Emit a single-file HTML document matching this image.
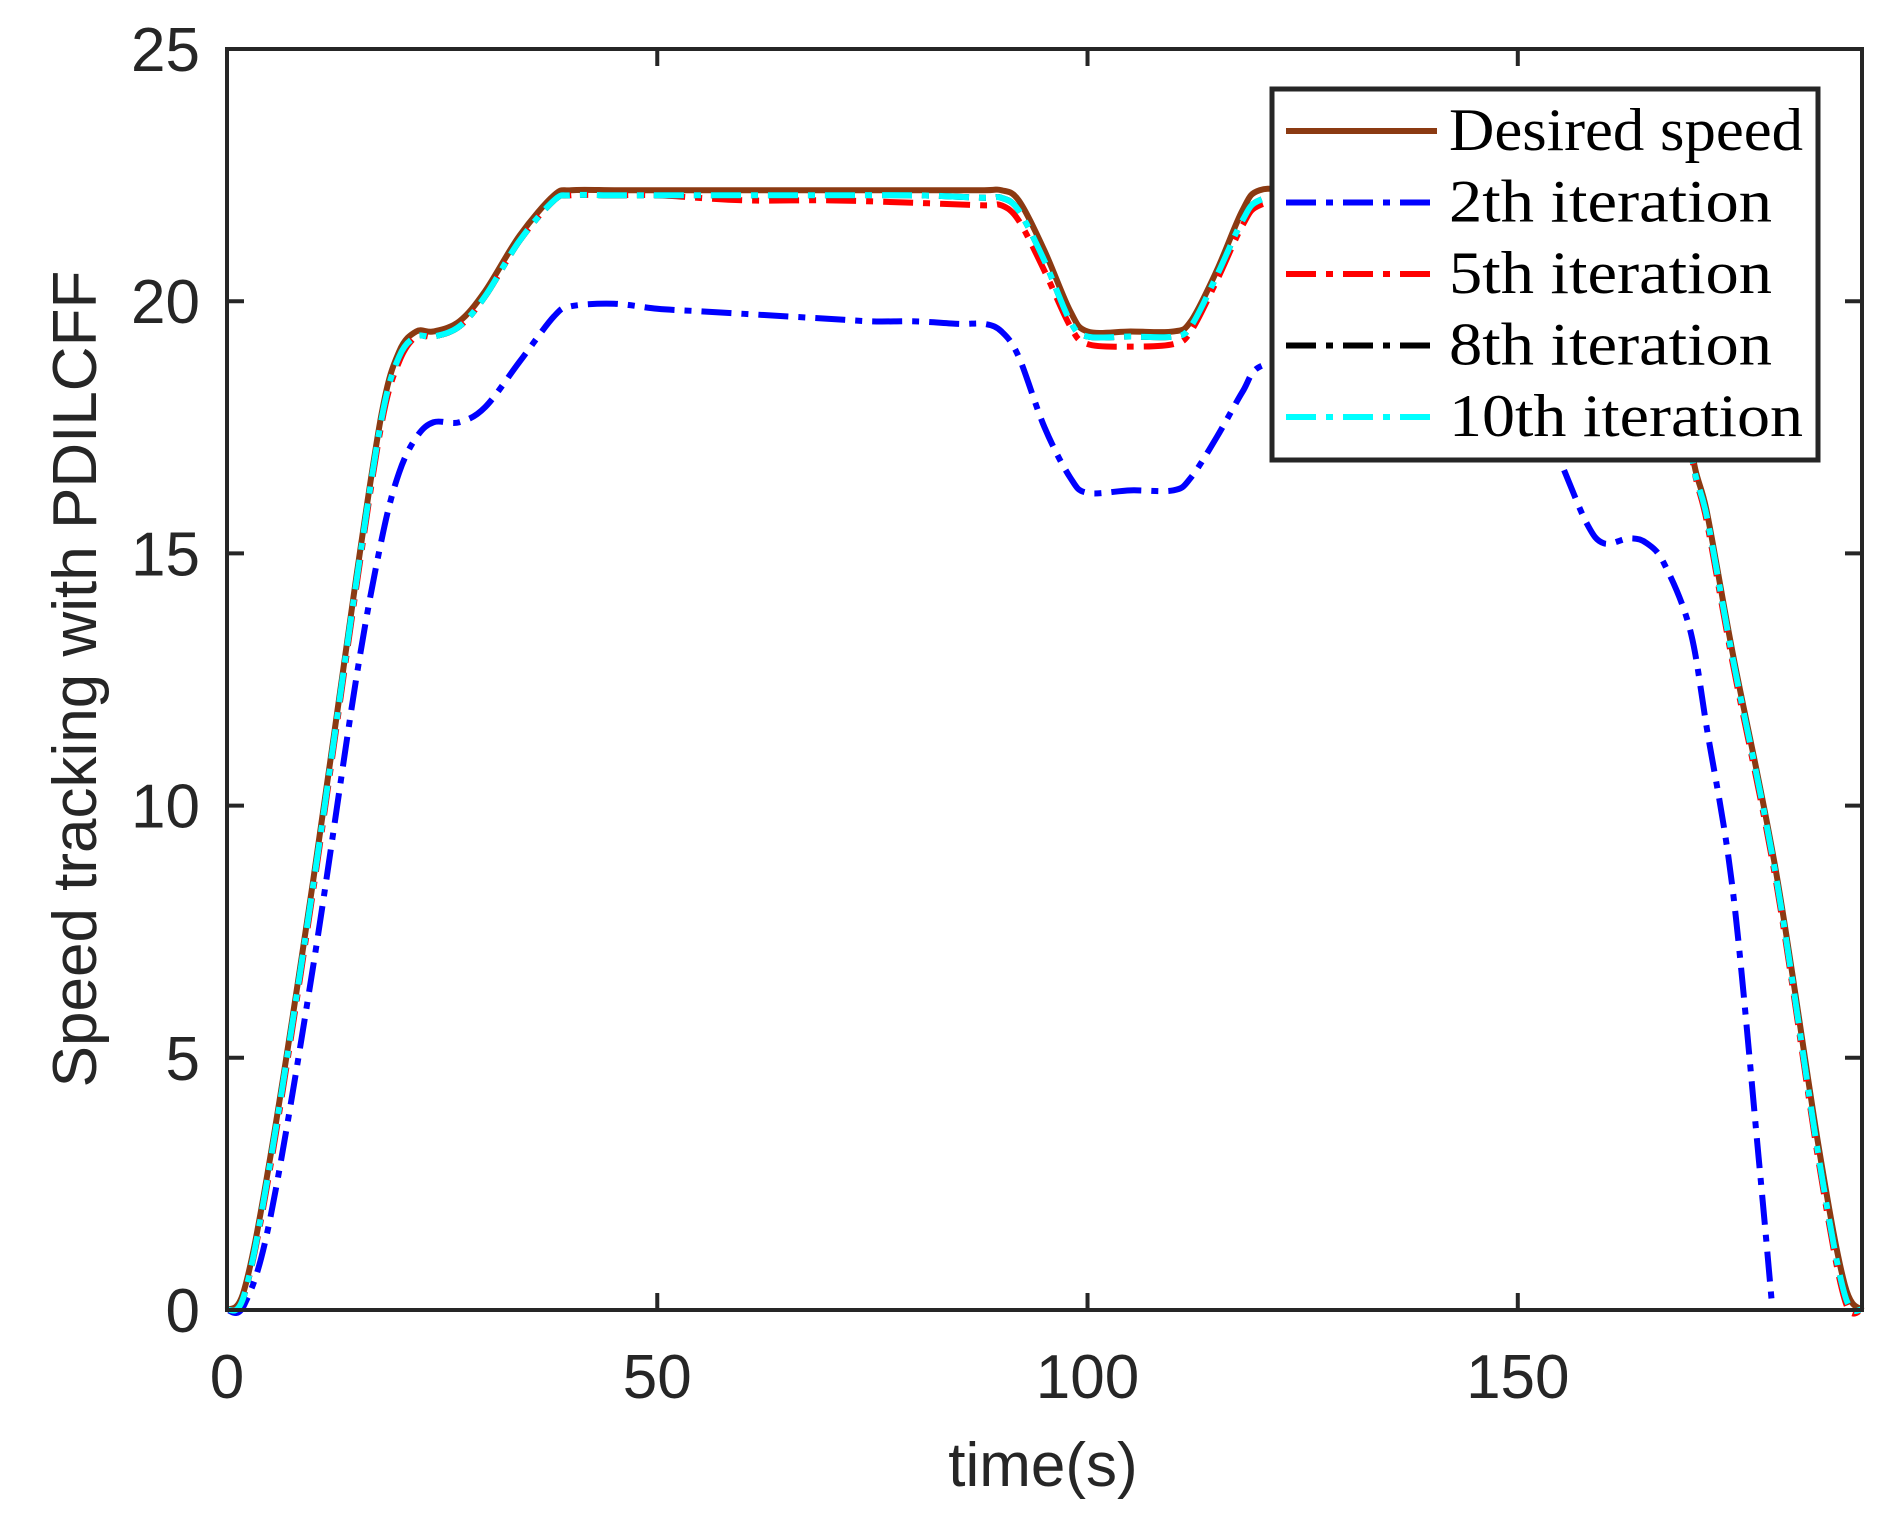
<!DOCTYPE html>
<html><head><meta charset="utf-8"><style>
body{margin:0;background:#fff}
svg{display:block}
.tk{font-family:"Liberation Sans",sans-serif;font-size:62px;fill:#262626}
.lg{font-family:"Liberation Serif",serif;font-size:60px;fill:#000}
</style></head><body>
<svg id="chart" width="1892" height="1531" viewBox="0 0 1892 1531" xmlns="http://www.w3.org/2000/svg">
<g id="axes"></g>
<g id="series"></g>
<g id="frame"></g>
<text class="tk" x="1043" y="1486" text-anchor="middle" font-size="70">time(s)</text>
<text class="tk" transform="translate(96,679) rotate(-90)" text-anchor="middle" font-size="70">Speed tracking with PDILCFF</text>
<g id="legend"></g>
</svg>
<script>
const xTicks=[0,50,100,150];
const yTicks=[0,5,10,15,20,25];
const tCommon=[0,2,5,10,15,18,20,22,24,27,30,34,38,40,45,50,60,70,80,88,90,92,95,98,100,105,110,112,115,118,120,125,140,155,160,165,167,170,172,175,180,185,188,190];
const desired=[0,0.4,3,8.5,14.5,17.8,19,19.4,19.4,19.6,20.2,21.3,22.1,22.2,22.2,22.2,22.2,22.2,22.2,22.2,22.2,22.0,21,19.8,19.4,19.4,19.4,19.6,20.6,21.8,22.2,22.2,22.2,22.2,22.2,22.2,22.0,17.3,15.8,13,8.7,3.2,0.5,0];
const iter5=[0,0.3,2.8,8.3,14.3,17.6,18.8,19.3,19.3,19.5,20.1,21.2,22.0,22.1,22.1,22.1,22.0,22.0,21.95,21.9,21.9,21.6,20.6,19.5,19.15,19.1,19.15,19.4,20.4,21.5,21.9,22.0,22.1,22.1,22.1,22.1,21.9,17.2,15.6,12.8,8.5,2.9,0.2,0];
const iter8=[0,0.3,2.9,8.4,14.4,17.7,18.9,19.3,19.3,19.5,20.1,21.2,22.0,22.1,22.1,22.1,22.1,22.1,22.1,22.05,22.05,21.8,20.8,19.6,19.3,19.3,19.3,19.5,20.5,21.6,22.0,22.1,22.1,22.1,22.1,22.1,21.9,17.2,15.7,12.9,8.6,3.0,0.3,0];
const iter10=[0,0.3,2.9,8.4,14.4,17.7,18.9,19.3,19.3,19.5,20.1,21.2,22.0,22.1,22.1,22.1,22.1,22.1,22.1,22.05,22.05,21.8,20.8,19.6,19.3,19.3,19.3,19.5,20.5,21.6,22.0,22.1,22.1,22.1,22.1,22.1,21.9,17.2,15.7,12.9,8.6,3.0,0.3,0];
const t2=[0,2,5,10,15,18,20,22,24,27,30,34,38,40,45,50,55,60,65,70,75,80,85,88,90,92,95,98,100,105,110,112,115,118,120,125,135,145,150,153,155,158,160,163,165,167,170,172,175,178,179.6];
const iter2=[0,0.1,1.8,6.8,12.5,15.3,16.6,17.3,17.6,17.6,17.9,18.8,19.7,19.9,19.95,19.85,19.8,19.75,19.7,19.65,19.6,19.6,19.55,19.55,19.4,18.9,17.5,16.5,16.2,16.25,16.25,16.5,17.3,18.2,18.7,18.8,18.7,18.5,18.2,17.5,16.8,15.6,15.2,15.3,15.2,14.8,13.5,11.5,8.3,3,0];
const legendLabels=["Desired speed","2th iteration","5th iteration","8th iteration","10th iteration"];

const L=227,R=1862,T=49,B=1310,XMAX=190,YMAX=25;
const X=v=>L+v/XMAX*(R-L), Y=v=>B-v/YMAX*(B-T);
const NS="http://www.w3.org/2000/svg";
function mk(tag,attrs,parent){const e=document.createElementNS(NS,tag);for(const k in attrs)e.setAttribute(k,attrs[k]);parent.appendChild(e);return e;}
const axes=document.getElementById('axes'),frame=document.getElementById('frame'),ser=document.getElementById('series'),leg=document.getElementById('legend');
xTicks.forEach(v=>{
  const a=mk('line',{x1:X(v),x2:X(v),y1:B,y2:B-17,stroke:'#262626','stroke-width':4},frame);
  
  
  const b=mk('line',{x1:X(v),x2:X(v),y1:T,y2:T+17,stroke:'#262626','stroke-width':4},frame);
  
  
  const t=mk('text',{x:X(v),y:1398,'text-anchor':'middle',class:'tk'},axes);t.textContent=v;
  
  
});
yTicks.forEach(v=>{
  const a=mk('line',{x1:L,x2:L+17,y1:Y(v),y2:Y(v),stroke:'#262626','stroke-width':4},frame);
  
  
  const b=mk('line',{x1:R,x2:R-17,y1:Y(v),y2:Y(v),stroke:'#262626','stroke-width':4},frame);
  
  
  const t=mk('text',{x:200,y:Y(v)+22,'text-anchor':'end',class:'tk'},axes);t.textContent=v;
  
  
});
const fr=mk('rect',{x:L,y:T,width:R-L,height:B-T,fill:'none',stroke:'#262626','stroke-width':4},frame);


function pathD(ts,vs){
  const p=ts.map((t,i)=>[X(t),Y(vs[i])]);
  let d='M'+p[0][0]+','+p[0][1];
  for(let i=0;i<p.length-1;i++){
    const p0=p[Math.max(0,i-1)],p1=p[i],p2=p[i+1],p3=p[Math.min(p.length-1,i+2)];
    const c1=[p1[0]+(p2[0]-p0[0])/6,p1[1]+(p2[1]-p0[1])/6],c2=[p2[0]-(p3[0]-p1[0])/6,p2[1]-(p3[1]-p1[1])/6];
    d+=' C'+c1+' '+c2+' '+p2;
  }
  return d;
}
const dash='30 10 7 10';
const specs=[[tCommon,desired,'#8b3a12',null,'desired-speed-line'],[t2,iter2,'#0000ff',dash,'iteration-2-line'],[tCommon,iter5,'#ff0000',dash,'iteration-5-line'],[tCommon,iter8,'#000000',dash,'iteration-8-line'],[tCommon,iter10,'#00ffff',dash,'iteration-10-line']];
specs.forEach(s=>{
  const a={d:pathD(s[0],s[1]),fill:'none',stroke:s[2],'stroke-width':6};
  if(s[3])a['stroke-dasharray']=s[3];
  const e=mk('path',a,ser);
  
  
});
const box=mk('rect',{x:1272,y:89,width:546,height:371,fill:'#fff',stroke:'#262626','stroke-width':5},leg);


legendLabels.forEach((lab,i)=>{
  const y=131+i*71.5;
  const a={x1:1286,x2:1437,y1:y,y2:y,stroke:specs[i][2],'stroke-width':6};
  if(specs[i][3])a['stroke-dasharray']=specs[i][3];
  const l=mk('line',a,leg);
  
  
  const t=mk('text',{x:1449,y:y+19,class:'lg',textLength:i==0?354:(i==4?354:323),lengthAdjust:'spacingAndGlyphs'},leg);t.textContent=lab;
  
  
});
</script>
</body></html>
